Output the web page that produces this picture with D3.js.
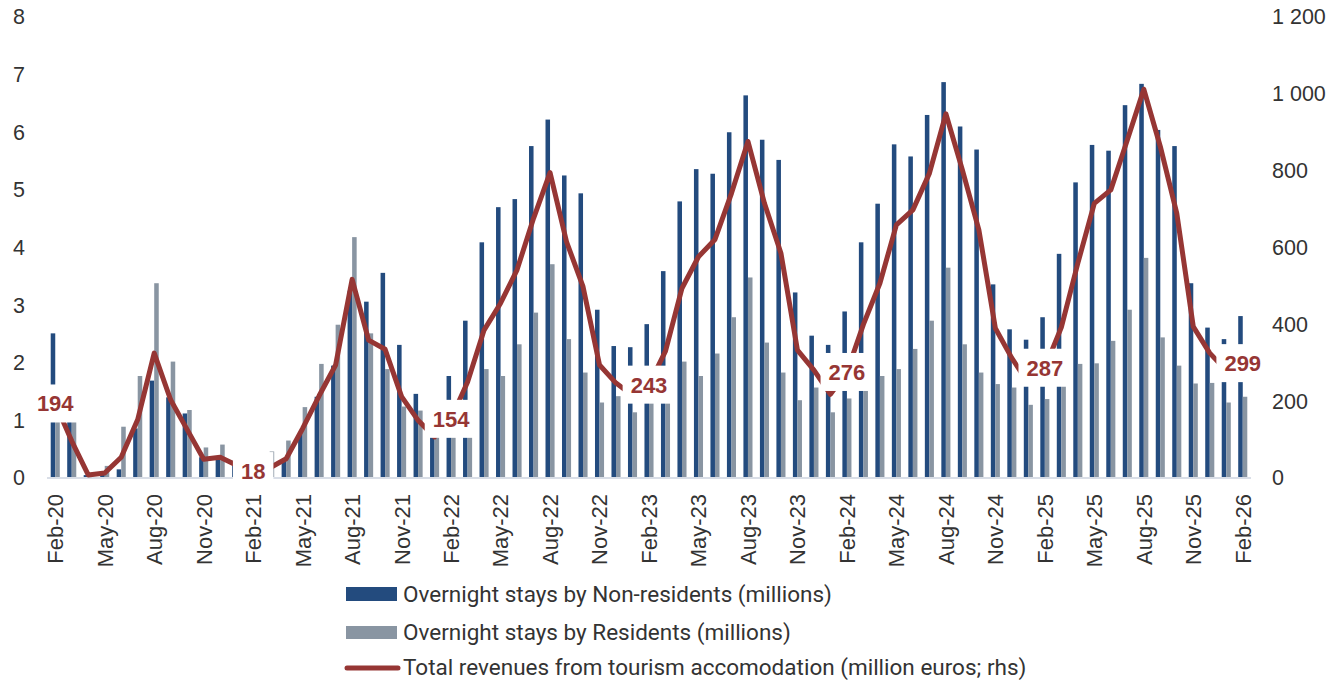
<!DOCTYPE html>
<html>
<head>
<meta charset="utf-8">
<script src="https://cdn.jsdelivr.net/npm/d3@7/dist/d3.min.js"></script>
<style>
	body { margin: 0; background: #fff; }
	text { font-family: "Liberation Sans", Arial, sans-serif; }
</style>
</head>
<body>
<svg id="Overview" width="1332" height="681"></svg>
<script>

var months = ["Feb-20","Mar-20","Apr-20","May-20","Jun-20","Jul-20","Aug-20","Sep-20","Oct-20","Nov-20","Dec-20","Jan-21",
	"Feb-21","Mar-21","Apr-21","May-21","Jun-21","Jul-21","Aug-21","Sep-21","Oct-21","Nov-21","Dec-21","Jan-22",
	"Feb-22","Mar-22","Apr-22","May-22","Jun-22","Jul-22","Aug-22","Sep-22","Oct-22","Nov-22","Dec-22","Jan-23",
	"Feb-23","Mar-23","Apr-23","May-23","Jun-23","Jul-23","Aug-23","Sep-23","Oct-23","Nov-23","Dec-23","Jan-24",
	"Feb-24","Mar-24","Apr-24","May-24","Jun-24","Jul-24","Aug-24","Sep-24","Oct-24","Nov-24","Dec-24","Jan-25",
	"Feb-25","Mar-25","Apr-25","May-25","Jun-25","Jul-25","Aug-25","Sep-25","Oct-25","Nov-25","Dec-25","Jan-26",
	"Feb-26"];

// overnight stays, millions
var nonResidents = [2.51,1.20,0.05,0.06,0.15,0.86,1.69,1.40,1.12,0.36,0.36,0.30,
	0.15,0.20,0.33,0.78,1.41,1.95,3.25,3.06,3.56,2.31,1.46,1.10,
	1.77,2.73,4.09,4.70,4.84,5.76,6.22,5.25,4.94,2.92,2.29,2.27,
	2.67,3.59,4.80,5.36,5.28,6.00,6.64,5.87,5.52,3.22,2.47,2.31,
	2.89,4.09,4.76,5.79,5.58,6.30,6.87,6.10,5.70,3.36,2.58,2.40,
	2.79,3.89,5.13,5.78,5.68,6.47,6.84,6.04,5.76,3.38,2.61,2.41,
	2.81];
var residents = [1.20,1.00,0.06,0.21,0.89,1.77,3.38,2.02,1.18,0.53,0.58,0.35,
	0.30,0.46,0.65,1.23,1.98,2.66,4.18,2.51,1.89,1.24,1.17,0.90,
	1.00,1.10,1.89,1.77,2.32,2.87,3.71,2.41,1.83,1.31,1.42,1.14,
	1.35,1.40,2.02,1.77,2.16,2.79,3.48,2.35,1.83,1.35,1.57,1.14,
	1.38,1.60,1.77,1.89,2.24,2.73,3.65,2.32,1.83,1.63,1.57,1.27,
	1.37,1.60,1.98,1.99,2.38,2.92,3.82,2.44,1.95,1.64,1.65,1.31,
	1.41];
// total revenues, million euros (rhs)
var revenues = [194,96,8,13,54,152,325,203,126,49,54,33,
	18,26,50,129,214,294,517,359,335,212,150,107,
	154,250,385,455,542,676,795,615,498,294,247,215,
	243,330,494,576,621,741,876,715,585,333,281,218,
	276,400,507,659,698,793,948,802,646,390,312,247,
	287,392,559,715,750,880,1012,863,689,394,325,280,
	299];

var labelledMonths = ["Feb-20","Feb-21","Feb-22","Feb-23","Feb-24","Feb-25","Feb-26"];
var xTickMonths = months.filter(function (d, i) { return i % 3 === 0; });
var leftTicks = [0,1,2,3,4,5,6,7,8];
var rightTicks = [0,200,400,600,800,1000,1200];
var rightTickLabels = ["0","200","400","600","800","1 000","1 200"];
var legendNames = ["Overnight stays by Non-residents (millions)",
	"Overnight stays by Residents (millions)",
	"Total revenues from tourism accomodation (million euros; rhs)"];

var blue = "#234b7e", grey = "#8995a2", red = "#963634", ink = "#333";

var root = d3.select("#Overview");

var x_scale = d3.scaleBand().domain(months).range([47, 1251]);
var y_scale = d3.scaleLinear().domain([0, 8]).range([478, 17]);
var y2_scale = d3.scaleLinear().domain([0, 1200]).range([478, 17]);
var bw = x_scale.bandwidth();
function cx(m) { return x_scale(m) + bw / 2; }

//Bars
var barW = bw * 0.275;
root.append("g").selectAll("rect")
	.data(months)
	.enter().append("rect")
		.attr("x", function (d) { return cx(d) - barW; })
		.attr("width", barW)
		.attr("y", function (d, i) { return y_scale(nonResidents[i]); })
		.attr("height", function (d, i) { return y_scale(0) - y_scale(nonResidents[i]); })
		.attr("fill", blue);

root.append("g").selectAll("rect")
	.data(months)
	.enter().append("rect")
		.attr("x", function (d) { return cx(d); })
		.attr("width", barW)
		.attr("y", function (d, i) { return y_scale(residents[i]); })
		.attr("height", function (d, i) { return y_scale(0) - y_scale(residents[i]); })
		.attr("fill", grey);

// baseline
root.append("line")
	.attr("x1", x_scale.range()[0]).attr("x2", x_scale.range()[1])
	.attr("y1", y_scale(0)).attr("y2", y_scale(0))
	.attr("stroke", "#d9dee7")
	.attr("stroke-width", 2);

//Revenue line
var line = d3.line()
	.x(function (d, i) { return cx(months[i]); })
	.y(function (d) { return y2_scale(d); });

root.append("path")
	.datum(revenues)
	.attr("d", line)
	.attr("fill", "none")
	.attr("stroke", red)
	.attr("stroke-width", 5)
	.attr("stroke-linejoin", "round");

// data labels with white boxes
labelledMonths.forEach(function (m) {
	var i = months.indexOf(m);
	var g = root.append("g")
		.attr("transform", "translate(" + cx(m) + "," + y2_scale(revenues[i]) + ")");
	var t = g.append("text")
		.attr("text-anchor", "middle")
		.attr("dy", "0.36em")
		.style("font-size", "22px")
		.style("font-weight", "bold")
		.attr("fill", red)
		.text(revenues[i]);
	var w = t.node().getComputedTextLength() + 16;
	g.insert("rect", "text")
		.attr("x", -w / 2).attr("y", -19)
		.attr("width", w).attr("height", 38)
		.attr("fill", "#fff");
});

//Axes
var yAxis = d3.axisLeft(y_scale).tickValues(leftTicks).tickSize(0).tickPadding(0);
var y2Axis = d3.axisRight(y2_scale).tickValues(rightTicks).tickSize(0).tickPadding(0)
	.tickFormat(function (d, i) { return rightTickLabels[i]; });
var xAxis = d3.axisBottom(x_scale).tickValues(xTickMonths).tickSize(0).tickPadding(0);

root.append("g")
	.attr("class", "yAxis")
	.attr("transform", "translate(25,0)")
	.call(yAxis);

root.append("g")
	.attr("class", "yAxis")
	.attr("transform", "translate(1272,0)")
	.call(y2Axis);

root.append("g")
	.attr("class", "xAxis")
	.attr("transform", "translate(0,494)")
	.call(xAxis)
	.selectAll("text")
		.attr("transform", "rotate(-90)")
		.attr("x", 0)
		.attr("y", 0)
		.attr("dy", "0.36em")
		.style("text-anchor", "end")
		.style("font-size", "22px");

root.selectAll(".domain").remove();
root.selectAll(".yAxis text").style("font-size", "21.5px");
root.selectAll(".yAxis text, .xAxis text")
	.attr("fill", ink)
	.style("font-family", "'Liberation Sans', Arial, sans-serif");

//Legend
var legendY = [594, 632, 667];
var legend = root.append("g");
legend.append("rect").attr("x", 346).attr("y", legendY[0] - 7).attr("width", 51).attr("height", 14).attr("fill", blue);
legend.append("rect").attr("x", 346).attr("y", legendY[1] - 6).attr("width", 51).attr("height", 13).attr("fill", grey);
legend.append("line")
	.attr("x1", 347).attr("x2", 398)
	.attr("y1", legendY[2] + 1).attr("y2", legendY[2] + 1)
	.attr("stroke", red).attr("stroke-width", 5).attr("stroke-linecap", "round");

legend.selectAll("text")
	.data(legendNames)
	.enter().append("text")
		.attr("x", 403)
		.attr("y", function (d, i) { return legendY[i]; })
		.attr("dy", "0.35em")
		.attr("fill", ink)
		.style("font-family", "Roboto, sans-serif")
		.style("font-size", "22.5px")
		.text(function (d) { return d; });

</script>
</body>
</html>
